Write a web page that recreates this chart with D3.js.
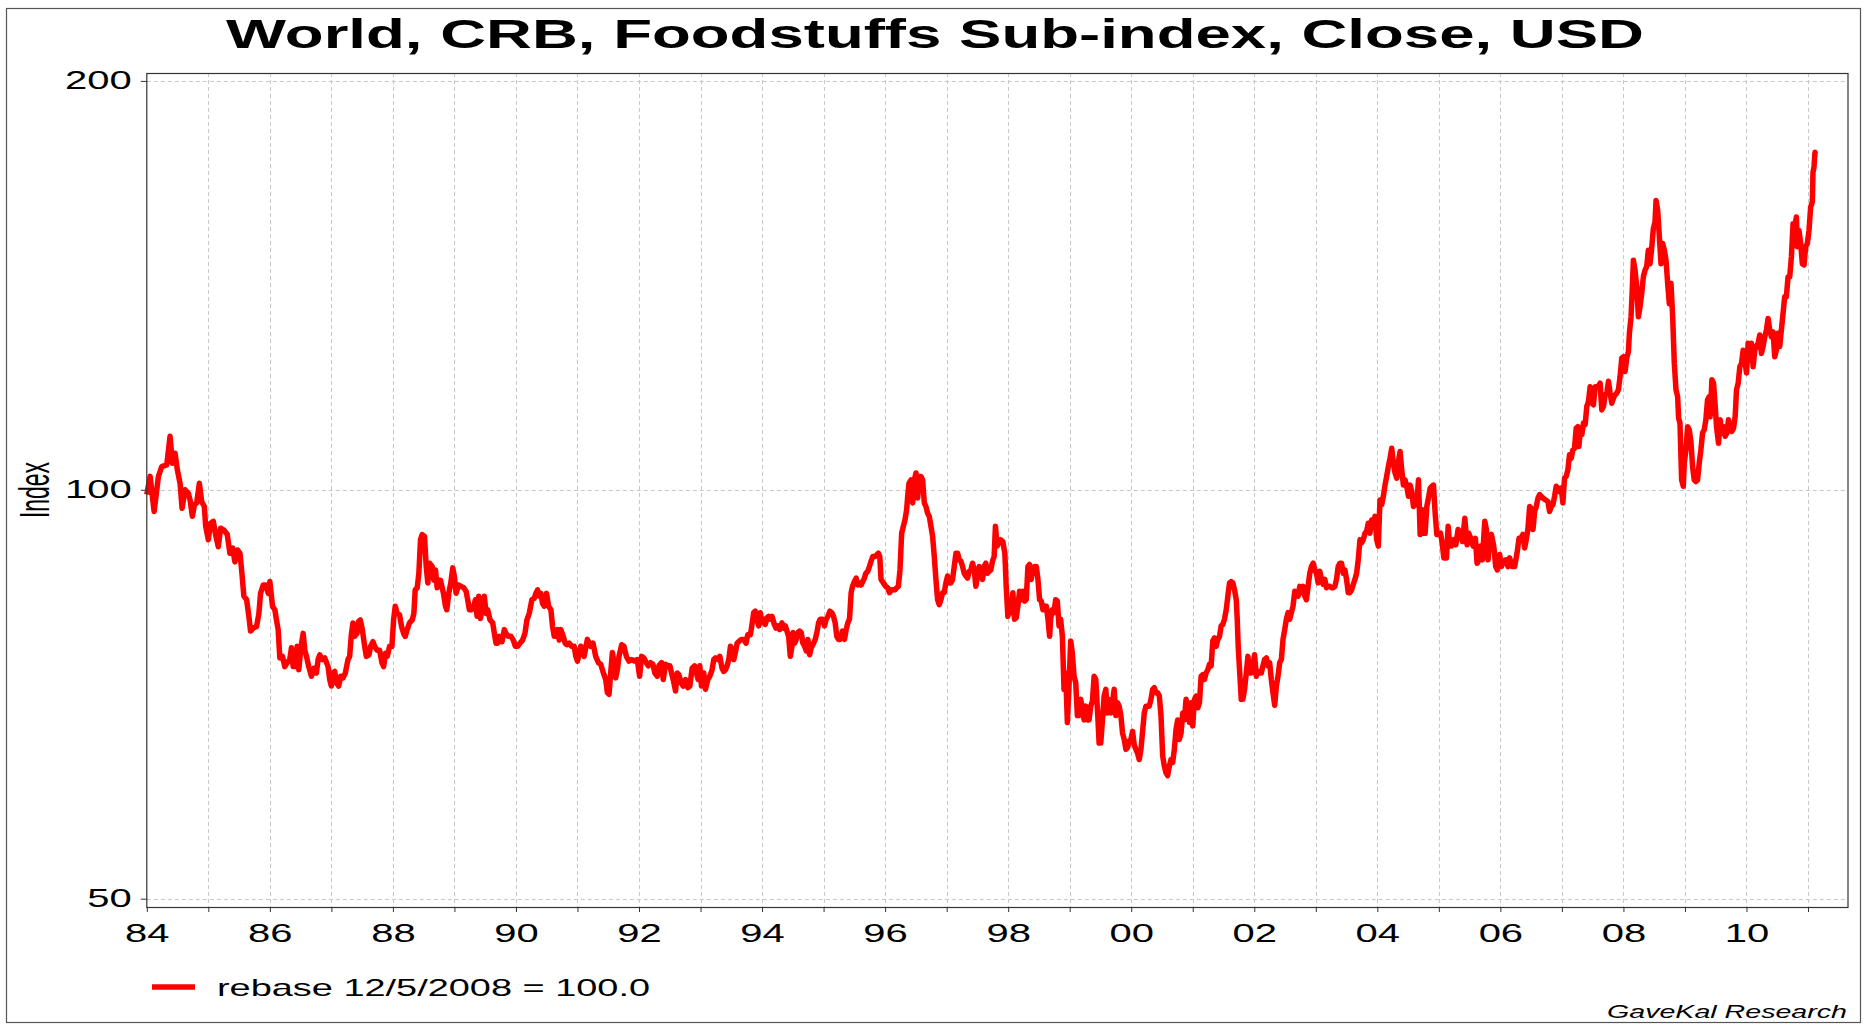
<!DOCTYPE html>
<html>
<head>
<meta charset="utf-8">
<script src="https://cdn.jsdelivr.net/npm/d3@7/dist/d3.min.js"></script>
<style>
  body { margin: 0; background: #fff; }
  svg text { font-family: "Liberation Sans", Arial, Helvetica, sans-serif; fill: #000; }
</style>
</head>
<body>
<svg id="chart" width="1868" height="1027"></svg>
<script>
// ---- chart text ----
const chartTitle = "World, CRB, Foodstuffs Sub-index, Close, USD";
const yAxisTitle = "Index";
const seriesLabel = "rebase 12/5/2008 = 100.0";
const sourceLabel = "GaveKal Research";

// ---- ticks ----
const yTickValues = [50, 100, 200];
const yearLabels = ["84", "86", "88", "90", "92", "94", "96", "98", "00", "02", "04", "06", "08", "10"];
const firstYear = 1984, lastTickYear = 2011;

// ---- series: [decimal year, index value] ----
const food1984 = [
  [1984.000,99.2],[1984.054,102.3],[1984.119,96.4],[1984.189,102.3],[1984.243,104.0],[1984.324,104.3],[1984.378,109.5],[1984.416,104.6],[1984.459,106.4],[1984.497,103.4],
  [1984.541,101.1],[1984.573,96.9],[1984.622,100.0],[1984.676,99.4],[1984.703,98.3],[1984.741,95.6],[1984.773,97.5],[1984.811,97.8],[1984.854,101.1],[1984.892,98.0],
  [1984.935,97.2],[1984.957,94.0],[1985.000,91.9],[1985.038,94.5],[1985.081,94.8],[1985.124,92.4],[1985.162,90.8],[1985.200,93.7],[1985.254,93.4],[1985.308,92.7],
  [1985.351,89.8],[1985.395,90.6],[1985.432,88.5],[1985.476,90.3],[1985.514,89.8],[1985.541,87.3],[1985.578,83.5],[1985.622,83.0],[1985.659,80.7],[1985.686,78.7],
  [1985.730,79.1],[1985.784,79.3],[1985.822,81.1],[1985.849,83.9],[1985.892,85.1],[1985.935,85.1],[1985.973,83.9],[1986.000,85.6],[1986.043,82.1],[1986.081,81.6],
  [1986.108,80.2],[1986.135,78.9],[1986.162,75.2],[1986.205,75.4],[1986.243,74.1],[1986.281,74.6],[1986.324,75.0],[1986.351,76.5],[1986.378,74.1],[1986.416,74.1],
  [1986.443,76.7],[1986.470,73.7],[1986.508,76.7],[1986.541,78.4],[1986.568,76.2],[1986.595,75.4],[1986.632,74.1],[1986.676,72.9],[1986.714,73.9],[1986.757,73.3],
  [1986.784,75.0],[1986.811,75.6],[1986.854,75.0],[1986.892,75.2],[1986.946,74.1],[1986.973,72.5],[1987.000,71.7],[1987.027,73.3],[1987.054,73.5],[1987.081,72.1],
  [1987.119,71.7],[1987.151,72.9],[1987.189,72.7],[1987.227,73.3],[1987.270,75.0],[1987.297,75.4],[1987.324,78.2],[1987.351,79.8],[1987.378,78.0],[1987.416,78.4],
  [1987.443,80.0],[1987.470,80.2],[1987.503,78.9],[1987.541,76.7],[1987.568,75.4],[1987.611,75.6],[1987.638,76.7],[1987.676,77.3],[1987.703,76.7],[1987.741,76.2],
  [1987.784,76.2],[1987.822,74.6],[1987.849,74.1],[1987.881,75.8],[1987.908,75.4],[1987.946,76.7],[1987.984,76.7],[1988.011,80.2],[1988.038,82.1],[1988.070,81.1],
  [1988.108,80.9],[1988.141,79.3],[1988.173,78.4],[1988.200,78.0],[1988.232,78.9],[1988.270,79.8],[1988.314,80.2],[1988.341,81.1],[1988.362,84.4],[1988.395,84.7],
  [1988.422,86.8],[1988.449,91.9],[1988.476,92.7],[1988.514,92.4],[1988.541,87.8],[1988.568,85.4],[1988.595,88.3],[1988.638,87.8],[1988.665,85.8],[1988.692,87.3],
  [1988.719,84.7],[1988.746,85.8],[1988.773,85.8],[1988.800,84.7],[1988.822,83.9],[1988.854,82.1],[1988.876,81.6],[1988.908,83.9],[1988.941,85.4],[1988.973,87.6],
  [1989.000,86.3],[1989.027,83.9],[1989.065,85.1],[1989.108,84.9],[1989.151,84.7],[1989.189,84.2],[1989.216,83.0],[1989.243,81.6],[1989.281,81.6],[1989.314,82.1],
  [1989.341,83.0],[1989.368,80.7],[1989.395,83.5],[1989.422,80.4],[1989.449,81.6],[1989.486,83.5],[1989.514,81.1],[1989.541,81.6],[1989.578,80.2],[1989.622,79.8],
  [1989.649,78.4],[1989.676,77.1],[1989.703,77.1],[1989.730,78.0],[1989.773,77.3],[1989.811,78.9],[1989.838,78.4],[1989.876,78.0],[1989.919,78.0],[1989.957,77.5],
  [1989.989,76.7],[1990.027,76.7],[1990.065,77.1],[1990.108,77.5],[1990.146,78.4],[1990.178,80.2],[1990.216,81.1],[1990.259,83.0],[1990.297,83.2],[1990.324,83.9],
  [1990.351,84.4],[1990.378,83.5],[1990.405,83.9],[1990.432,82.5],[1990.459,82.1],[1990.497,83.9],[1990.530,82.1],[1990.568,81.6],[1990.595,79.3],[1990.622,78.0],
  [1990.649,78.0],[1990.676,78.9],[1990.703,77.5],[1990.730,78.9],[1990.768,78.0],[1990.800,77.1],[1990.827,76.9],[1990.865,77.1],[1990.903,76.7],[1990.946,76.7],
  [1990.973,75.4],[1991.000,74.8]
];

const food1991 = [
  [1991.053,76.7],[1991.107,75.4],[1991.161,77.6],[1991.215,76.7],[1991.253,77.1],[1991.296,75.4],[1991.340,74.6],[1991.378,74.4],[1991.421,73.3],[1991.459,72.5],
  [1991.486,70.9],[1991.513,70.7],[1991.540,73.3],[1991.567,75.9],[1991.594,74.6],[1991.621,72.7],[1991.648,73.7],[1991.675,75.4],[1991.718,76.9],[1991.756,76.7],
  [1991.794,75.4],[1991.837,74.8],[1991.880,75.0],[1991.918,74.8],[1991.972,75.0],[1992.010,72.9],[1992.042,75.4],[1992.080,75.2],[1992.118,74.6],[1992.150,74.2],
  [1992.188,74.6],[1992.226,74.4],[1992.258,73.3],[1992.296,72.9],[1992.323,74.2],[1992.367,74.6],[1992.394,72.5],[1992.432,74.4],[1992.475,74.2],[1992.502,74.2],
  [1992.529,73.3],[1992.561,72.3],[1992.594,71.1],[1992.621,73.3],[1992.648,73.1],[1992.686,72.1],[1992.718,71.7],[1992.756,72.5],[1992.794,71.5],[1992.826,71.7],
  [1992.864,73.9],[1992.902,74.2],[1992.934,73.3],[1992.961,72.5],[1992.988,74.2],[1993.015,71.7],[1993.053,73.3],[1993.080,71.3],[1993.118,72.5],[1993.150,72.9],
  [1993.188,73.7],[1993.215,75.0],[1993.242,75.2],[1993.280,75.0],[1993.313,75.4],[1993.350,73.9],[1993.377,73.5],[1993.404,73.7],[1993.432,74.2],[1993.459,75.0],
  [1993.486,76.7],[1993.513,76.3],[1993.540,75.0],[1993.567,75.9],[1993.594,77.1],[1993.632,77.4],[1993.664,77.6],[1993.702,77.6],[1993.740,77.1],[1993.767,78.2],
  [1993.810,78.2],[1993.837,79.6],[1993.864,81.2],[1993.891,81.4],[1993.918,80.3],[1993.945,79.4],[1993.972,81.2],[1993.999,79.8],[1994.026,80.3],[1994.053,79.6],
  [1994.080,80.5],[1994.107,80.7],[1994.134,80.3],[1994.161,80.7],[1994.199,79.6],[1994.226,79.1],[1994.259,79.4],[1994.286,78.9],[1994.323,79.8],[1994.351,79.1],
  [1994.378,79.4],[1994.405,78.7],[1994.432,78.0],[1994.459,75.4],[1994.486,76.7],[1994.502,78.5],[1994.529,77.1],[1994.556,77.6],[1994.583,78.5],[1994.610,78.7],
  [1994.637,78.5],[1994.664,77.1],[1994.691,76.7],[1994.718,76.1],[1994.745,77.6],[1994.772,75.6],[1994.799,76.5],[1994.826,76.9],[1994.864,77.6],[1994.891,78.5],
  [1994.918,79.8],[1994.945,80.3],[1994.983,80.3],[1995.015,79.4],[1995.042,80.3],[1995.070,80.7],[1995.102,81.4],[1995.134,81.2],[1995.161,80.7],[1995.188,79.8],
  [1995.215,78.0],[1995.242,77.6],[1995.270,77.6],[1995.307,78.7],[1995.340,77.6],[1995.367,78.9],[1995.394,79.8],[1995.421,80.3],[1995.448,84.0],[1995.470,84.9],
  [1995.502,85.6],[1995.529,86.1],[1995.556,85.1],[1995.583,85.4],[1995.610,85.1],[1995.637,85.6],[1995.664,86.1],[1995.686,86.8],[1995.718,87.1],[1995.745,87.8],
  [1995.772,88.6],[1995.799,89.3],[1995.837,89.3],[1995.870,89.6],[1995.891,89.8],[1995.913,89.3],[1995.934,85.9],[1995.972,85.4],[1996.010,84.9],[1996.043,84.7],
  [1996.070,84.0],[1996.107,84.4],[1996.134,84.4],[1996.161,84.4],[1996.188,84.7],[1996.215,84.9],[1996.242,87.3],[1996.269,92.9],[1996.296,94.0],[1996.323,95.0],
  [1996.350,96.7],[1996.367,98.9],[1996.388,101.1],[1996.421,101.7],[1996.448,97.8],[1996.475,101.7],[1996.502,102.9],[1996.529,98.6],[1996.556,102.3],[1996.583,102.3],
  [1996.610,101.7],[1996.637,97.8],[1996.664,97.2],[1996.691,96.1],[1996.718,95.6],[1996.745,94.0],[1996.772,92.4],[1996.799,89.3],[1996.826,85.9],[1996.853,83.0],
  [1996.880,82.3],[1996.907,83.0],[1996.934,84.0],[1996.961,84.0],[1996.988,85.4],[1997.015,86.4],[1997.042,85.4],[1997.069,85.4],[1997.096,85.9],[1997.123,87.8],
  [1997.151,89.8],[1997.178,89.8],[1997.205,88.8],[1997.232,88.6],[1997.259,87.8],[1997.286,86.8],[1997.313,86.4],[1997.340,86.1],[1997.367,87.1],[1997.394,87.3],
  [1997.421,88.3],[1997.448,87.3],[1997.475,84.9],[1997.502,86.4],[1997.529,87.8],[1997.556,86.8],[1997.583,85.9],[1997.610,87.8],[1997.637,88.3],[1997.664,86.8],
  [1997.691,87.1],[1997.718,87.3],[1997.745,88.6],[1997.772,89.3],[1997.793,94.0],[1997.821,90.9]
];

const food1998 = [
  [1997.875,91.9],[1997.913,91.6],[1997.946,89.8],[1997.968,84.9],[1997.995,80.7],[1998.022,82.1],[1998.049,81.2],[1998.076,84.0],[1998.103,80.3],[1998.131,80.5],
  [1998.158,82.1],[1998.185,84.2],[1998.212,83.0],[1998.239,84.2],[1998.266,82.8],[1998.294,83.0],[1998.321,87.8],[1998.348,88.1],[1998.375,85.9],[1998.402,87.6],
  [1998.429,87.8],[1998.457,87.8],[1998.484,85.9],[1998.511,83.0],[1998.538,82.8],[1998.565,81.6],[1998.592,82.1],[1998.620,82.1],[1998.647,80.3],[1998.674,78.0],
  [1998.690,80.3],[1998.717,81.6],[1998.745,81.2],[1998.772,83.0],[1998.799,82.8],[1998.826,79.4],[1998.853,80.3],[1998.881,78.0],[1998.908,71.3],[1998.935,73.3],
  [1998.962,67.4],[1998.989,71.7],[1999.016,77.4],[1999.043,75.8],[1999.071,72.9],[1999.098,72.1],[1999.125,68.2],[1999.152,68.2],[1999.179,70.1],[1999.207,68.9],
  [1999.234,67.7],[1999.261,69.3],[1999.288,67.7],[1999.315,67.7],[1999.342,69.3],[1999.370,69.9],[1999.397,72.9],[1999.424,72.5],[1999.451,68.9],[1999.478,65.1],
  [1999.505,65.1],[1999.533,67.7],[1999.560,70.5],[1999.587,71.3],[1999.614,68.5],[1999.641,70.1],[1999.668,68.5],[1999.696,69.7],[1999.723,71.3],[1999.750,68.2],
  [1999.777,69.7],[1999.804,69.3],[1999.832,68.2],[1999.859,66.2],[1999.886,65.5],[1999.913,64.4],[1999.940,64.6],[1999.967,65.3],[1999.995,65.5],[2000.022,66.4],
  [2000.049,64.9],[2000.076,64.4],[2000.103,64.0],[2000.130,63.3],[2000.158,64.4],[2000.185,66.4],[2000.212,68.5],[2000.239,69.3],[2000.266,69.3],[2000.293,69.3],
  [2000.321,70.1],[2000.348,71.3],[2000.375,71.5],[2000.402,70.9],[2000.429,70.9],[2000.457,70.5],[2000.484,68.2],[2000.511,63.7],[2000.538,62.6],[2000.565,61.9],
  [2000.592,61.6],[2000.620,62.6],[2000.647,63.3],[2000.674,63.0],[2000.701,64.4],[2000.728,66.6],[2000.755,67.7],[2000.783,65.5],[2000.810,66.2],[2000.837,68.5],
  [2000.864,67.7],[2000.891,70.1],[2000.918,69.3],[2000.946,67.4],[2000.973,69.7],[2001.000,67.0],[2001.027,70.1],[2001.054,70.5],[2001.082,69.1],[2001.109,69.7],
  [2001.136,72.9],[2001.163,73.1],[2001.190,72.5],[2001.217,73.3],[2001.245,73.7],[2001.272,74.4],[2001.299,74.2],[2001.326,77.4],[2001.353,77.8],[2001.381,76.7],
  [2001.408,77.6],[2001.435,78.0],[2001.462,79.4],[2001.489,79.6],[2001.516,80.3],[2001.544,81.6],[2001.571,83.5],[2001.598,85.4],[2001.625,85.6],[2001.652,85.4],
  [2001.679,84.4],[2001.707,83.0],[2001.723,80.3],[2001.739,76.7],[2001.761,73.7],[2001.788,70.1],[2001.815,70.1],[2001.842,71.3],[2001.870,73.3],[2001.897,75.4],
  [2001.924,73.3],[2001.951,73.3],[2001.978,74.2],[2002.005,75.6],[2002.033,72.9],[2002.060,73.5],[2002.087,73.3],[2002.114,73.3],[2002.141,74.2],[2002.168,75.0],
  [2002.196,75.2],[2002.223,74.2],[2002.250,74.6],[2002.277,72.5],[2002.304,70.9],[2002.332,69.4],[2002.359,71.7],[2002.386,72.9],[2002.413,74.6],[2002.440,75.0],
  [2002.467,77.6],[2002.495,78.9],[2002.522,80.3],[2002.549,81.2],[2002.576,80.3],[2002.603,81.2],[2002.630,82.1],[2002.658,84.2],[2002.685,84.0],[2002.712,83.5],
  [2002.739,84.9],[2002.766,84.0],[2002.793,84.9],[2002.821,83.5],[2002.848,83.0],[2002.875,84.9],[2002.902,86.8],[2002.929,87.8],[2002.957,88.3],[2002.984,87.3],
  [2003.011,86.8],[2003.038,85.4],[2003.065,87.1],[2003.092,85.9],[2003.120,85.2],[2003.147,85.9],[2003.174,84.7],[2003.201,84.9],[2003.228,84.9],[2003.255,84.7],
  [2003.283,84.7],[2003.310,84.9],[2003.337,85.9],[2003.364,87.8],[2003.391,88.3],[2003.418,88.3],[2003.446,86.8],[2003.473,87.3],[2003.500,85.9],[2003.527,84.0],
  [2003.554,84.0],[2003.582,84.4],[2003.609,85.2],[2003.636,85.9],[2003.663,86.8],[2003.690,88.8],[2003.718,91.9],[2003.745,91.4],[2003.772,91.9],[2003.799,92.9],
  [2003.826,93.2],[2003.853,94.5],[2003.880,92.9],[2003.908,95.0],[2003.935,94.5],[2003.962,95.6],[2003.989,91.9],[2004.016,90.9],[2004.043,98.3],[2004.071,97.5],
  [2004.098,98.9],[2004.125,100.8],[2004.152,102.3],[2004.179,104.0],[2004.207,105.5],[2004.234,107.3],[2004.261,104.6],[2004.288,102.9],[2004.316,102.0],[2004.343,104.9],
  [2004.370,106.7],[2004.397,103.4],[2004.424,100.8],[2004.451,101.7],[2004.478,100.6],[2004.506,98.9],[2004.533,100.8],[2004.560,99.7],[2004.587,97.2],[2004.614,98.9],
  [2004.641,97.5],[2004.669,101.7],[2004.696,92.7],[2004.723,96.7],[2004.750,92.9],[2004.777,92.9],[2004.804,97.2],[2004.831,98.6],[2004.859,100.3],[2004.886,100.6],
  [2004.913,100.8],[2004.940,96.1],[2004.967,92.7],[2004.994,92.7]
];

const food2005 = [
  [2005.027,92.9],[2005.054,91.4],[2005.081,89.1],[2005.124,89.1],[2005.151,94.0],[2005.178,90.9],[2005.205,90.9],[2005.243,91.9],[2005.276,91.1],[2005.313,93.5],
  [2005.351,92.7],[2005.384,91.6],[2005.422,95.3],[2005.459,91.1],[2005.486,92.9],[2005.519,92.1],[2005.557,90.9],[2005.594,92.1],[2005.621,88.3],[2005.654,88.8],
  [2005.681,90.9],[2005.708,88.8],[2005.746,94.8],[2005.773,93.5],[2005.800,88.8],[2005.827,92.4],[2005.854,92.7],[2005.892,90.9],[2005.924,87.8],[2005.951,87.3],
  [2005.989,89.6],[2006.016,87.8],[2006.054,88.6],[2006.086,88.8],[2006.124,87.8],[2006.151,89.1],[2006.189,87.8],[2006.232,87.8],[2006.270,89.8],[2006.303,92.1],
  [2006.330,92.1],[2006.367,92.7],[2006.394,90.6],[2006.421,91.9],[2006.449,93.7],[2006.476,97.2],[2006.503,96.9],[2006.530,93.5],[2006.557,96.4],[2006.584,97.2],
  [2006.611,98.6],[2006.638,99.2],[2006.665,98.9],[2006.692,98.6],[2006.735,98.3],[2006.773,98.0],[2006.800,96.4],[2006.827,97.2],[2006.854,97.5],[2006.881,98.9],
  [2006.908,100.6],[2006.935,100.3],[2006.962,99.7],[2006.989,100.3],[2007.016,97.8],[2007.043,102.0],[2007.070,102.3],[2007.097,103.4],[2007.124,106.1],[2007.151,105.5],
  [2007.178,107.0],[2007.205,107.3],[2007.232,111.0],[2007.259,111.3],[2007.276,107.6],[2007.297,110.4],[2007.324,109.8],[2007.351,112.0],[2007.378,111.7],[2007.405,115.2],
  [2007.432,116.2],[2007.459,119.1],[2007.486,115.8],[2007.513,115.5],[2007.540,119.1],[2007.584,119.1],[2007.621,119.8],[2007.648,114.5],[2007.676,115.2],[2007.703,117.5],
  [2007.730,117.8],[2007.757,120.2],[2007.784,117.8],[2007.811,115.8],[2007.838,116.8],[2007.865,117.5],[2007.892,117.8],[2007.919,118.5],[2007.946,121.2],[2007.973,125.0],
  [2008.000,125.3],[2008.027,122.2],[2008.054,125.0],[2008.081,126.4],[2008.097,130.4],[2008.124,134.1],[2008.141,139.5],[2008.162,147.6],[2008.189,145.1],[2008.216,141.1],
  [2008.243,134.1],[2008.270,136.4],[2008.297,139.5],[2008.324,143.5],[2008.351,145.1],[2008.378,146.0],[2008.405,150.1],[2008.432,146.7],[2008.459,150.5],[2008.486,155.7],
  [2008.513,157.4],[2008.530,163.3],[2008.557,160.6],[2008.584,153.5],[2008.611,146.7],[2008.638,151.8],[2008.665,150.1],[2008.692,147.6],[2008.719,141.9],[2008.746,137.1],
  [2008.773,141.9],[2008.800,134.1],[2008.827,123.9],[2008.854,118.5],[2008.881,117.1],[2008.897,112.9],[2008.919,112.0],[2008.946,101.7],[2008.973,100.6],[2008.989,104.6],
  [2009.016,107.0],[2009.043,111.3],[2009.070,110.7],[2009.097,108.5],[2009.124,104.0],[2009.151,101.7],[2009.178,101.4],[2009.205,101.7],[2009.232,104.6],[2009.259,107.0],
  [2009.286,110.1],[2009.313,110.7],[2009.340,112.6],[2009.367,116.5],[2009.394,117.1],[2009.411,113.2],[2009.438,120.5],[2009.465,119.8],[2009.492,115.2],[2009.513,111.3],
  [2009.546,108.2],[2009.573,112.6],[2009.600,110.1],[2009.627,111.3],[2009.654,109.5],[2009.681,110.1],[2009.708,112.6],[2009.735,110.7],[2009.762,110.4],[2009.789,111.0],
  [2009.816,113.2],[2009.838,118.5],[2009.865,119.8],[2009.892,123.2],[2009.919,123.9],[2009.946,126.7],[2009.973,124.6],[2010.000,121.9],[2010.027,128.2],[2010.054,124.6],
  [2010.081,128.2],[2010.108,123.2],[2010.135,126.7],[2010.162,127.5],[2010.189,128.2],[2010.216,130.0],[2010.243,126.0],[2010.270,127.5],[2010.297,129.6],[2010.324,131.1],
  [2010.351,133.7],[2010.378,131.1],[2010.405,129.6],[2010.432,130.7],[2010.459,125.3],[2010.486,126.7],[2010.513,130.4],[2010.540,127.5],[2010.567,131.1],[2010.594,134.8],
  [2010.621,138.7],[2010.648,138.7],[2010.676,143.5],[2010.703,143.5],[2010.730,148.4],[2010.757,157.0],[2010.784,156.1],[2010.811,158.8],[2010.827,151.0],[2010.854,155.2],
  [2010.881,151.8],[2010.908,146.7],[2010.935,146.4],[2010.962,151.0],[2010.989,151.8],[2011.016,155.2],[2011.043,161.5],[2011.070,162.9],[2011.081,171.3],[2011.097,172.8],
  [2011.113,177.2],[2011.124,176.7]
];

// ---- layout ----
const width = 1868, height = 1027;
const plot = {left: 146.8, right: 1848, top: 73, bottom: 907};
const stretch = 1.6;   // the original image is widened, so text is drawn wide too

const series = food1984.concat(food1991, food1998, food2005);
const tickYears = d3.range(firstYear, lastTickYear + 1);

const svg = d3.select("#chart");

const x = d3.scaleLinear()
    .domain([1984, 2011.65])
    .range([plot.left, plot.right]);

const y = d3.scaleLog()
    .domain([49.3, 202.7])
    .range([plot.bottom, plot.top]);

// outer frame
svg.append("rect")
    .attr("x", 6.5).attr("y", 8.5)
    .attr("width", 1854).attr("height", 1014)
    .attr("fill", "none")
    .attr("stroke", "#555")
    .attr("stroke-width", 1.2);

// title
svg.append("text")
    .attr("x", 935).attr("y", 48)
    .attr("text-anchor", "middle")
    .attr("font-size", 41)
    .attr("font-weight", "bold")
    .attr("textLength", 1418)
    .attr("lengthAdjust", "spacingAndGlyphs")
    .text(chartTitle);

// grid
const grid = svg.append("g")
    .attr("stroke", "#c8c8c8")
    .attr("stroke-width", 1)
    .attr("stroke-dasharray", "4,3");

grid.selectAll("line.v")
  .data(tickYears.filter(d => d > firstYear))
  .join("line")
    .attr("class", "v")
    .attr("x1", d => Math.round(x(d)) + 0.5)
    .attr("x2", d => Math.round(x(d)) + 0.5)
    .attr("y1", plot.top)
    .attr("y2", plot.bottom);

grid.selectAll("line.h")
  .data(yTickValues)
  .join("line")
    .attr("class", "h")
    .attr("x1", plot.left)
    .attr("x2", plot.right)
    .attr("y1", d => Math.round(y(d)) + 0.5)
    .attr("y2", d => Math.round(y(d)) + 0.5);

// axes
const xAxis = d3.axisBottom(x)
    .tickValues(tickYears)
    .tickSize(5)
    .tickPadding(12)
    .tickFormat(d => (d - firstYear) % 2 === 0 ? yearLabels[(d - firstYear) / 2] : "");

const xAxisG = svg.append("g")
    .attr("transform", `translate(0,${plot.bottom})`)
    .call(xAxis);
xAxisG.select(".domain").remove();
xAxisG.selectAll("line").attr("stroke", "#333");
xAxisG.selectAll("text")
    .attr("font-size", 25)
    .attr("font-family", null)
    .attr("transform", `scale(${stretch},1)`);

const yAxis = d3.axisLeft(y)
    .tickValues(yTickValues)
    .tickSize(6)
    .tickFormat(d3.format("d"));

const yAxisG = svg.append("g")
    .attr("transform", `translate(${plot.left},0)`)
    .call(yAxis);
yAxisG.select(".domain").remove();
yAxisG.selectAll("line").attr("stroke", "#333");
yAxisG.selectAll("text")
    .attr("font-size", 25)
    .attr("font-family", null)
    .attr("x", -15 / stretch)
    .attr("transform", `scale(${stretch},1)`);

// y axis title
svg.append("g")
    .attr("transform", `translate(34,490) scale(${stretch},1) rotate(-90)`)
  .append("text")
    .attr("text-anchor", "middle")
    .attr("dy", "0.36em")
    .attr("font-size", 26)
    .attr("textLength", 56)
    .attr("lengthAdjust", "spacingAndGlyphs")
    .text(yAxisTitle);

// series line
const line = d3.line()
    .x(d => x(d[0]))
    .y(d => y(d[1]));

svg.append("g")
    .append("path")
    .datum(series)
    .attr("fill", "none")
    .attr("stroke", "#ff0000")
    .attr("stroke-width", 5.5)
    .attr("stroke-linejoin", "round")
    .attr("d", line);

// plot box
svg.append("rect")
    .attr("x", plot.left).attr("y", plot.top + 0.5)
    .attr("width", plot.right - plot.left)
    .attr("height", plot.bottom - plot.top)
    .attr("fill", "none")
    .attr("stroke", "#333")
    .attr("stroke-width", 1.2);

// legend
const legend = svg.append("g");
legend.append("line")
    .attr("x1", 152).attr("x2", 195)
    .attr("y1", 987).attr("y2", 987)
    .attr("stroke", "#ff0000")
    .attr("stroke-width", 5.5);
legend.append("text")
    .attr("x", 217).attr("y", 996)
    .attr("font-size", 24)
    .attr("textLength", 433)
    .attr("lengthAdjust", "spacingAndGlyphs")
    .text(seriesLabel);

// source
svg.append("text")
    .attr("x", 1847).attr("y", 1018)
    .attr("text-anchor", "end")
    .attr("font-size", 19)
    .attr("font-style", "italic")
    .attr("textLength", 240)
    .attr("lengthAdjust", "spacingAndGlyphs")
    .text(sourceLabel);
</script>
</body>
</html>
